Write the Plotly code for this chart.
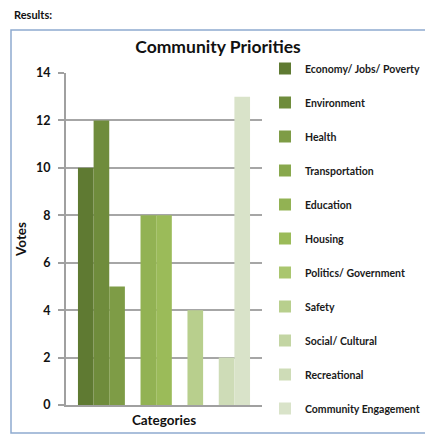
import plotly.graph_objects as go

priorities = ["Economy/ Jobs/ Poverty", "Environment", "Health", "Transportation",
              "Education", "Housing", "Politics/ Government", "Safety",
              "Social/ Cultural", "Recreational", "Community Engagement"]
votes = [10, 12, 5, 0, 8, 8, 0, 4, 0, 2, 13]
colors = ["#5f7a32", "#6f8c3c", "#7e9c46", "#88a84d", "#92b253", "#9bbb59",
          "#aac66f", "#b8cf8d", "#c3d5a3", "#cedcb7", "#d9e3c9"]
y_ticks = [0, 2, 4, 6, 8, 10, 12, 14]

FONT = "Lato"

fig = go.Figure()
for i, (name, v, c) in enumerate(zip(priorities, votes, colors)):
    fig.add_trace(go.Bar(x=[""], y=[v], name=name, marker=dict(color=c, line=dict(width=0)),
                         legendgroup=str(i)))

W, H = 425, 436
L, R, T, B = 66, 262, 73, 405

def px_x(p):
    return (p - L) / (R - L)

def px_y(p):
    return (B - p) / (B - T)

fig.update_layout(
    width=W, height=H,
    margin=dict(l=L, r=W - R, t=T, b=H - B, autoexpand=False),
    paper_bgcolor="white", plot_bgcolor="white",
    barmode="group", bargap=0.122, bargroupgap=0,
    font=dict(family=FONT, color="#1a1a1a"),
    title=dict(text="Community Priorities", x=218 / W, xref="container", xanchor="center",
               y=1 - 47 / H, yref="container", yanchor="middle",
               font=dict(family=FONT, size=17.5, weight="bold", color="#111")),
    showlegend=True,
    legend=dict(x=px_x(265), xanchor="left", y=px_y(54), yanchor="top",
                traceorder="grouped", tracegroupgap=15, maxheight=420,
                font=dict(family=FONT, size=10.5, weight="bold", color="#1a1a1a"),
                itemwidth=30, bgcolor="rgba(0,0,0,0)"),
    xaxis=dict(showticklabels=False, showline=True, linecolor="#a0a0a0", linewidth=2,
               ticks="", showgrid=False,
               title=dict(text="Categories", standoff=10,
                          font=dict(family=FONT, size=13.5, weight="bold", color="#111"))),
    yaxis=dict(range=[0, 14], tickvals=y_ticks, showline=True, linecolor="#a0a0a0", linewidth=2,
               ticks="outside", ticklen=6, tickcolor="#a0a0a0", tickwidth=1.5,
               ticklabelstandoff=5,
               showgrid=True, gridcolor="#a6a6a6", gridwidth=1.5, zeroline=False,
               tickfont=dict(family=FONT, size=12.5, weight="bold", color="#111"),
               title=dict(text="Votes", standoff=6,
                          font=dict(family=FONT, size=13.5, weight="bold", color="#111"))),
    shapes=[dict(type="rect", xref="paper", yref="paper",
                 x0=px_x(11), x1=px_x(428), y0=px_y(433), y1=px_y(30),
                 line=dict(color="#8eaad0", width=1.5), fillcolor="rgba(0,0,0,0)", layer="below")],
    annotations=[dict(text="Results:", xref="paper", yref="paper", x=px_x(12), y=px_y(14),
                      xanchor="left", yanchor="middle", showarrow=False,
                      font=dict(family=FONT, size=11, weight="bold", color="#111"))],
)

fig.write_html("out.html")
